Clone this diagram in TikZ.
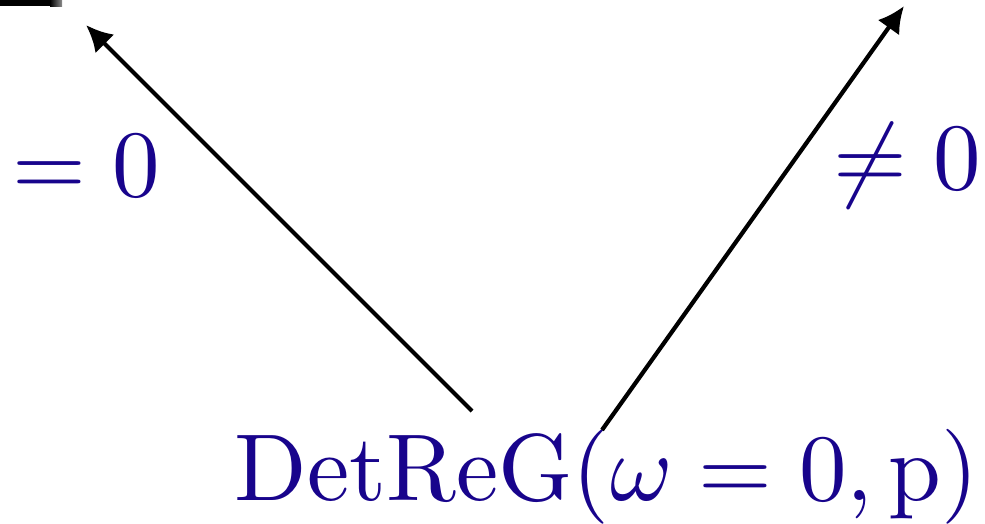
\documentclass[tikz,border=0pt]{standalone}
\usepackage{amsmath}
\usepackage{amssymb}
\usepackage{tikz}
\usetikzlibrary{arrows.meta, positioning}
\usepackage{xcolor}
\definecolor{detblue}{RGB}{24,4,140}

\begin{document}
\begin{tikzpicture}[x=0.01cm, y=-0.01cm,
        label/.style={inner sep=0pt, anchor=base west, text=detblue, font=\normalsize, scale=2.7, transform shape},
        line/.style={draw, -{Latex[length=7.5pt, width=7.5pt]}, line width=1.2pt}
    ]
    \useasboundingbox (0,0) rectangle (985,523);

    % cut-off bar in the corner
    \fill[black] (0,0) rectangle (50,6);
    \shade[left color=black, right color=black!45] (50,0) rectangle (62,6);

    % Nodes
    \node[label] (det) at (233,500) {$\mathrm{DetReG}(\omega=0,\mathrm{p})$};
    \node[label] (zero) at (11,196) {$=0$};
    \node[label] (nonzero) at (832,189) {$\neq0$};

    % arrow ends
    \coordinate (lstart) at (472,411);
    \coordinate (ltip) at (86,25);
    \coordinate (rstart) at (602,430);
    \coordinate (rtip) at (904,6);

    % Connections
    \path [line] (lstart) -- (ltip);
    \path [line] (rstart) -- (rtip);

\end{tikzpicture}
\end{document}
